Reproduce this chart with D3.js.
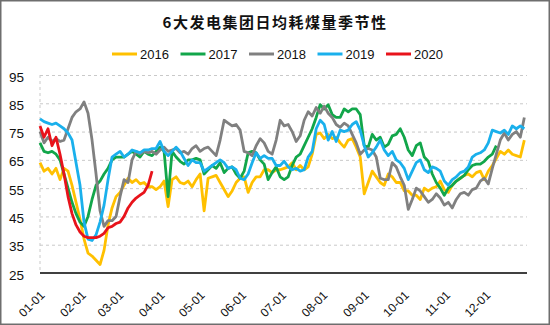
<!DOCTYPE html>
<html>
<head>
<meta charset="utf-8">
<script src="https://cdn.jsdelivr.net/npm/d3@7"></script>
<style>
  html, body { margin: 0; padding: 0; background: #fff; }
  svg { display: block; }
</style>
</head>
<body>
<svg id="chart" width="550" height="325"></svg>
<script>
// Daily coal consumption of the six big power groups, sampled every 3 days of the year
const chartTitle = "6大发电集团日均耗煤量季节性";
const years = ["2016", "2017", "2018", "2019", "2020"];
const colors = ["#FFC000", "#12A64A", "#808080", "#1AB0EC", "#E8131B"];

const sampleDays = d3.range(0, 366, 3); // day of year for each sample

const v2016 = [
  64, 61, 62, 60, 62, 58, 62, 61, 56, 50,
  44, 37, 32, 31, 29.5, 28, 33, 42, 48, 52,
  53.5, 56, 58.5, 57, 58, 56.5, 57, 55.5, 55.5, 54.5,
  55.5, 57.5, 48.5, 58, 59, 57, 56.5, 57.5, 55.5, 58,
  60, 47, 58.5, 59, 59.5, 57, 54.5, 52, 54, 57,
  58.5, 59, 53.5, 57, 59, 59, 61.5, 61.5, 60.5, 61.5,
  61.5, 62, 62.5, 64, 61.5, 63, 61.5, 62.5, 67, 74,
  74.5, 72.5, 74, 72.5, 73, 71, 69.5, 72, 72.5, 69.5,
  66, 53, 57, 61, 59, 57, 56, 60, 59, 57,
  57, 54, 54, 52.5, 52.5, 51, 55, 54, 55, 55.5,
  57.5, 54.5, 53.5, 56, 57.5, 58.5, 59.5, 60, 59, 60.5,
  61, 58, 61, 63, 65.5, 68, 67, 68.5, 67, 66.5,
  66, 72
];
const v2017 = [
  71, 68, 67.5, 68, 67, 65, 60, 55, 50, 46,
  43, 41.5, 45, 51, 56, 57.5, 60, 62, 65, 66,
  66, 66, 67, 68, 67, 66, 68, 67, 66.5, 68,
  69.5, 68, 52, 68, 66, 64.5, 63.5, 65, 65, 65.5,
  65, 60, 61.5, 63, 62, 64, 60.5, 62, 62.5, 60,
  58.5, 61, 67.5, 68, 67.5, 65, 63.5, 58, 60.5, 62.5,
  59, 58, 59, 63, 66, 67, 70, 73, 76, 80,
  84.5, 83, 84.5, 81, 80, 80, 83, 82, 83, 83,
  81, 70, 69.5, 74, 72, 73, 69.5, 70.5, 73.5, 74,
  76, 73, 68.5, 66.5, 70, 71, 66, 64.5, 60, 57,
  55, 52.5, 55, 56, 57.5, 58.5, 59.5, 61.5, 63, 63.5,
  63.5, 64.5, 66, 67, 70
];
const v2018 = [
  75, 71, 73, 71.5, 72.5, 71.5, 72, 76, 80, 82,
  83, 85.5, 81.5, 72, 60, 47, 41.5, 43.5, 43.5, 45,
  52, 58, 57, 65, 68, 67, 68, 67.5, 68, 67,
  68.5, 69.5, 68, 68.5, 69, 67.5, 68, 67, 69, 70,
  68, 69, 69.5, 68, 66.5, 72, 79, 78, 77, 77.5,
  75.5, 68, 67.5, 66.5, 70, 72.5, 71, 68, 67, 72,
  79, 77, 77.5, 75, 71.5, 73.5, 79, 82, 80.5, 83.5,
  81.5, 84, 81.5, 80, 77.5, 76.5, 78, 77, 74, 71,
  67, 68.5, 69, 68.5, 66, 58.5, 58, 58, 64, 62.5,
  59, 56, 47.5, 51, 55, 54, 52, 50, 51, 53,
  51.5, 49, 50, 48, 51, 53, 53.5, 52.5, 54.5, 55,
  57.5, 58.5, 56.5, 62, 67, 72, 74.5, 72, 74, 75,
  73, 80
];
const v2019 = [
  79.5, 78.5, 78, 77.5, 78, 77, 76, 74.5, 72, 64,
  56, 43, 37, 36.5, 38.5, 43, 49, 58, 66, 67,
  68, 66, 67, 68.5, 68, 67.5, 68.5, 68.5, 69, 69,
  71.5, 68, 66.5, 68, 69.5, 68, 65.5, 63, 65, 64,
  64, 61, 62, 63, 64, 65, 64, 62, 62.5, 61.5,
  58.5, 58, 60, 64, 67.5, 65.5, 66.5, 65.5, 65.5, 63,
  63, 64.5, 62.5, 61.5, 62, 61, 61.5, 66, 68, 76,
  79, 77.5, 72, 75, 71.5, 75.5, 75, 75.5, 77.5, 78.5,
  75.5, 70, 66, 67.5, 69.5, 72, 68.5, 66.5, 68, 65,
  64, 62, 58, 61, 64, 65, 61.5, 60.5, 62.5, 62,
  61, 57.5, 56, 58, 59, 60.5, 61, 62.5, 66, 67,
  67.5, 68.5, 71, 75.5, 75, 74.5, 75.5, 74, 77, 76,
  77, 76
];
const v2020 = [
  77, 73, 76, 70, 73, 67, 60, 52, 46, 42,
  39.5, 38, 37.5, 37.5, 37.5, 38, 39, 41, 41.5, 42.5,
  43, 45, 48, 50, 51.5, 52.5, 53.5, 56, 61
];
const seriesValues = [v2016, v2017, v2018, v2019, v2020];

const yTicks = [25, 35, 45, 55, 65, 75, 85, 95];
const monthStarts = [0, 31, 59, 90, 120, 151, 181, 212, 243, 273, 304, 334];
const monthLabels = ["01-01", "02-01", "03-01", "04-01", "05-01", "06-01",
                     "07-01", "08-01", "09-01", "10-01", "11-01", "12-01"];

const W = 550, H = 325;
const plot = { left: 40, right: 527, top: 75, bottom: 273 };
const svg = d3.select("#chart");
const font = "'Liberation Sans', Arial, sans-serif";

// frame
svg.append("rect")
  .attr("x", 0.75).attr("y", 0.75)
  .attr("width", W - 1.5).attr("height", H - 1.5)
  .attr("fill", "#fff").attr("stroke", "#6e6e6e").attr("stroke-width", 1.5);

const x = d3.scaleLinear().domain([0, 365]).range([plot.left, plot.right]);
const y = d3.scaleLinear().domain([25, 95]).range([plot.bottom, plot.top]);

// horizontal grid
const grid = svg.append("g")
  .attr("transform", `translate(${plot.left},0)`)
  .call(d3.axisLeft(y).tickValues(yTicks.slice(1))
    .tickSize(-(plot.right - plot.left)).tickFormat(""));
grid.select(".domain").remove();
grid.selectAll("line")
  .attr("stroke", "#c9c9c9").attr("stroke-width", 1).attr("stroke-dasharray", "3,3");

// dashed left axis
svg.append("line")
  .attr("x1", plot.left).attr("x2", plot.left)
  .attr("y1", plot.top).attr("y2", plot.bottom)
  .attr("stroke", "#c9c9c9").attr("stroke-width", 1).attr("stroke-dasharray", "3,3");

// y tick labels
const yAxis = svg.append("g")
  .attr("transform", `translate(${plot.left - 16},0)`)
  .call(d3.axisLeft(y).tickValues(yTicks).tickSize(0).tickPadding(0));
yAxis.select(".domain").remove();
yAxis.selectAll("text")
  .attr("font-family", font).attr("font-size", 13.5).attr("fill", "#111")
  .attr("dy", "0.45em");

// x axis
const xAxis = svg.append("g")
  .attr("transform", `translate(0,${plot.bottom})`)
  .call(d3.axisBottom(x).tickValues(monthStarts).tickSize(0)
    .tickFormat((d, i) => monthLabels[i]));
xAxis.select(".domain").attr("stroke", "#000").attr("stroke-width", 1.5)
  .attr("d", `M${plot.left},0H${plot.right}`);
xAxis.selectAll("text")
  .attr("font-family", font).attr("font-size", 12).attr("fill", "#111")
  .attr("text-anchor", "end")
  .attr("y", 0).attr("dy", "0.35em")
  .attr("transform", "translate(2,20) rotate(-45)");

// series lines
const line = d3.line()
  .x((v, i) => x(sampleDays[i]))
  .y(v => y(v));

svg.append("g").selectAll("path")
  .data(seriesValues)
  .join("path")
  .attr("d", line)
  .attr("fill", "none")
  .attr("stroke", (d, i) => colors[i])
  .attr("stroke-width", 2.8)
  .attr("stroke-linejoin", "round");

// title
svg.append("text")
  .attr("x", 275).attr("y", 28)
  .attr("text-anchor", "middle")
  .attr("font-family", "'Noto Sans CJK SC', sans-serif")
  .attr("font-weight", "bold").attr("font-size", 15)
  .attr("letter-spacing", "1.5px").attr("fill", "#111")
  .text(chartTitle);

// legend
const legend = svg.append("g").attr("transform", "translate(112,54)");
const item = legend.selectAll("g").data(years).join("g")
  .attr("transform", (d, i) => `translate(${i * 68.5},0)`);
item.append("line")
  .attr("x1", 0).attr("x2", 25).attr("y1", 0).attr("y2", 0)
  .attr("stroke", (d, i) => colors[i]).attr("stroke-width", 3);
item.append("text")
  .attr("x", 28).attr("y", 0).attr("dy", "0.36em")
  .attr("font-family", font).attr("font-size", 13).attr("fill", "#111")
  .text(d => d);
</script>
</body>
</html>
